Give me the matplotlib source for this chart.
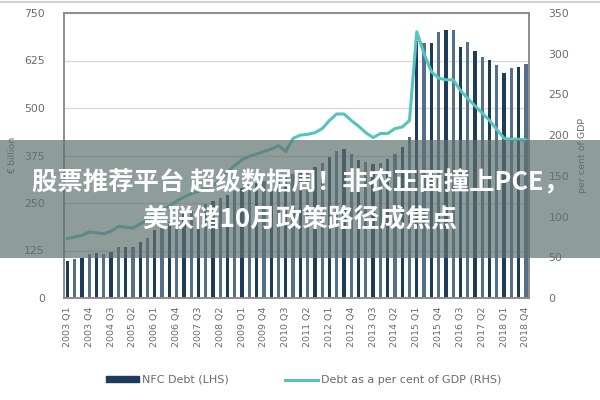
import matplotlib
matplotlib.use("Agg")
import matplotlib.pyplot as plt
from matplotlib.lines import Line2D
from matplotlib.patches import Patch, Rectangle
import numpy as np

# quarterly NFC debt (EUR bn, LHS) and debt / GDP (%, RHS), 2003 Q1 .. 2018 Q4
years = list(range(2003, 2019))
quarters = [f"{y} Q{q}" for y in years for q in range(1, 5)]

nfc_debt = [
    97, 102, 104, 115, 118, 115, 120, 135, 133, 135, 148, 158,
    178, 190, 200, 210, 220, 230, 240, 248, 254, 262, 272, 282,
    290, 297, 303, 308, 314, 318, 323, 327, 332, 337, 345, 355,
    372, 387, 391, 380, 362, 357, 352, 356, 366, 380, 397, 424,
    677, 672, 671, 700, 706, 706, 660, 673, 651, 634, 627, 614,
    592, 605, 609, 617,
]
debt_gdp = [
    73, 75, 77, 81, 80, 79, 82, 88, 87, 86, 91, 96,
    103, 108, 113, 119, 124, 128, 131, 135, 138, 145, 155, 163,
    170, 174, 177, 180, 183, 187, 180, 196, 200, 201, 203, 208,
    218, 226, 226, 218, 211, 203, 197, 202, 202, 208, 210, 218,
    327, 300, 278, 270, 268, 268, 255, 245, 236, 227, 218, 207,
    196, 195, 195, 194,
]

lhs_ticks = [0, 125, 250, 375, 500, 625, 750]
rhs_ticks = [0, 50, 100, 150, 200, 250, 300, 350]

headline_1 = "股票推荐平台 超级数据周！非农正面撞上PCE，"
headline_2 = "美联储10月政策路径成焦点"

navy = "#1d3c5a"
navy_light = "#546f88"
teal = "#56c4be"
grey_txt = "#6b6b6b"

fig = plt.figure(figsize=(6, 4), dpi=100)
ax = fig.add_axes([0.107, 0.255, 0.775, 0.7125])

x = np.arange(len(quarters))
colors = [navy if i % 2 == 0 else navy_light for i in range(len(quarters))]
ax.bar(x, nfc_debt, width=0.45, color=colors, zorder=2)
ax.set_xlim(-0.45, len(quarters) - 0.55)
ax.set_ylim(0, 750)
ax.set_yticks(lhs_ticks)
ax.grid(axis="y", color="#d9d9d9", linewidth=1, zorder=0)
ax.set_axisbelow(True)
ax.set_xticks(x[::3])
ax.set_xticklabels(quarters[::3], rotation=90, fontsize=6.8, color=grey_txt)
ax.tick_params(axis="both", length=0, pad=6)
ax.tick_params(axis="y", labelsize=7.8, colors=grey_txt, pad=14)
ax.set_ylabel("€ billion", fontsize=6.8, color=grey_txt, labelpad=5)
for s in ax.spines.values():
    s.set_color("#8c8c8c")
    s.set_linewidth(1.2)

ax2 = ax.twinx()
ax2.plot(x, debt_gdp, color=teal, linewidth=2.2, zorder=3)
ax2.set_ylim(0, 350)
ax2.set_yticks(rhs_ticks)
ax2.tick_params(axis="y", length=0, labelsize=7.8, colors=grey_txt, pad=14)
ax2.set_ylabel("per cent of GDP", fontsize=6.8, color=grey_txt, labelpad=6)
for s in ax2.spines.values():
    s.set_color("#8c8c8c")
    s.set_linewidth(1.2)

handles = [
    Patch(facecolor=navy, edgecolor=navy),
    Line2D([0], [0], color=teal, linewidth=2.2),
]
fig.legend(handles, ["NFC Debt (LHS)", "Debt as a per cent of GDP (RHS)"],
           loc="center", bbox_to_anchor=(0.506, 0.05), ncol=2, frameon=False,
           fontsize=8, labelcolor=grey_txt, handlelength=3, handleheight=0.45,
           columnspacing=5.0, handletextpad=0.3)

# thin border line at the top and the grey headline band
fig.add_artist(Line2D([0, 1], [0.995, 0.995], color="#d0d0d0", linewidth=1.5,
                      transform=fig.transFigure))
fig.add_artist(Rectangle((0, 0.355), 1, 0.295, transform=fig.transFigure,
                         facecolor="#5f7270", alpha=0.7, edgecolor="none", zorder=10))
fig.text(0.5, 0.543, headline_1, ha="center", va="center", color="white",
         fontsize=18.3, fontweight="bold", zorder=11,
         family=["Noto Sans CJK SC", "DejaVu Sans"])
fig.text(0.5, 0.452, headline_2, ha="center", va="center", color="white",
         fontsize=18.6, fontweight="bold", zorder=11,
         family=["Noto Sans CJK SC", "DejaVu Sans"])

fig.savefig("out.png", dpi=100)
